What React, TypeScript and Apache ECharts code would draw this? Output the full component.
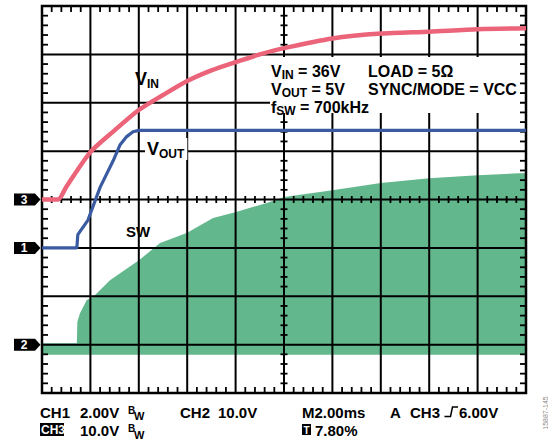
import React, { useEffect, useRef } from 'react';
import * as echarts from 'echarts';

// ---- Time base (ms) and screen divisions ----
const TIME_MAX_MS = 20;
const TIME_PER_DIV_MS = 2;
const V_DIVS = 8;
const MINOR_PER_DIV = 5;

// ---- Channel settings: ground level in divisions, volts per division ----
const CH1_GROUND_DIV = 3; // VOUT
const CH1_VOLTS_PER_DIV = 2;
const CH2_GROUND_DIV = 1; // SW
const CH2_VOLTS_PER_DIV = 10;
const CH3_GROUND_DIV = 4; // VIN
const CH3_VOLTS_PER_DIV = 10;

// ---- CH3: VIN ----
const vinTimeMs = [0, 0.66, 1.0, 2.0, 3.0, 4.0, 5.0, 6.0, 7.0, 8.0, 9.0, 10.0, 12.0, 14.0, 16.0, 18.0, 20.0];
const vinVolts = [0, 0, 2.6, 9.8, 14.3, 18.5, 21.6, 24.5, 26.7, 28.4, 30.0, 31.3, 33.3, 34.3, 34.7, 35.2, 35.4];

// ---- CH1: VOUT ----
const voutTimeMs = [0, 1.44, 1.48, 1.9, 2.4, 2.94, 3.22, 3.5, 3.76, 4.0, 8.0, 12.0, 16.0, 20.0];
const voutVolts = [0, 0, 0.55, 1.15, 2.5, 3.6, 4.25, 4.6, 4.8, 4.86, 4.86, 4.86, 4.86, 4.86];

// ---- CH2: SW (switching node envelope) ----
const swTimeMs = [0, 1.44, 1.46, 1.57, 1.85, 2.12, 2.81, 4.02, 4.88, 5.98, 7.07, 8.02, 9.29, 10.0, 12.0, 14.0, 16.0, 18.0, 20.0];
const swPeakVolts = [0.3, 0.3, 4.7, 6.5, 9.2, 9.9, 13.3, 17.5, 21.0, 23.1, 26.2, 27.4, 29.3, 30.5, 31.9, 33.4, 34.4, 35.0, 35.5];
const swFloorVolts = -2.1;

// ---- Channel ground markers ----
const channelMarkers = ['3', '1', '2'];
const markerGrounds = [CH3_GROUND_DIV, CH1_GROUND_DIV, CH2_GROUND_DIV];

const PINK = '#eb6479';
const BLUE = '#3a5ba2';
const GREEN = '#63b78d';
const FONT = '"Liberation Sans", Arial, Helvetica, sans-serif';

const toDiv = (t: number[], v: number[], ground: number, vpd: number) =>
  t.map((ti, i) => [ti, ground + v[i] / vpd]);

const rich = (main: number, sub: number, lh: number) => ({
  m: { fontSize: main, fontWeight: 'bold', fontFamily: FONT, fill: '#000', lineHeight: lh },
  s: { fontSize: sub, fontWeight: 'bold', fontFamily: FONT, fill: '#000', verticalAlign: 'bottom', lineHeight: sub },
});

function txt(x: number, y: number, text: string, size = 15, extra: any = {}) {
  return {
    type: 'text', x, y, z: 10,
    style: { text, fontSize: size, fontWeight: 'bold', fontFamily: FONT, fill: '#000', align: 'left', verticalAlign: 'middle', ...extra },
  };
}

// SW envelope fill first, then the graticule over it (children order = paint order)
function renderScreen(_params: any, api: any) {
  const children: any[] = [];
  const X = (t: number) => api.coord([t, 0])[0];
  const Y = (d: number) => api.coord([0, d])[1];
  const left = X(0), right = X(TIME_MAX_MS), bottom = Y(0), top = Y(V_DIVS);
  const cx = X(TIME_MAX_MS / 2), cy = Y(V_DIVS / 2);

  const swDiv = toDiv(swTimeMs, swPeakVolts, CH2_GROUND_DIV, CH2_VOLTS_PER_DIV);
  const floorDiv = CH2_GROUND_DIV + swFloorVolts / CH2_VOLTS_PER_DIV;
  const pts = swDiv.map((p) => api.coord(p));
  pts.push(api.coord([swTimeMs[swTimeMs.length - 1], floorDiv]));
  pts.push(api.coord([swTimeMs[0], floorDiv]));
  children.push({ type: 'polygon', shape: { points: pts }, style: { fill: GREEN, stroke: null } });

  const line = (x1: number, y1: number, x2: number, y2: number, w: number) =>
    children.push({ type: 'line', shape: { x1, y1, x2, y2 }, style: { stroke: '#000', lineWidth: w } });
  const nxDiv = TIME_MAX_MS / TIME_PER_DIV_MS;
  for (let i = 1; i < nxDiv; i++) { const x = X(i * TIME_PER_DIV_MS); line(x, top, x, bottom, 2); }
  for (let j = 1; j < V_DIVS; j++) { const y = Y(j); line(left, y, right, y, 2); }
  for (let k = 1; k < nxDiv * MINOR_PER_DIV; k++) {
    if (k % MINOR_PER_DIV === 0) continue;
    const x = X((k * TIME_PER_DIV_MS) / MINOR_PER_DIV);
    line(x, bottom, x, bottom - 6, 1.8);
    line(x, top, x, top + 6, 1.8);
    line(x, cy - 3.5, x, cy + 3.5, 1.8);
  }
  for (let k = 1; k < V_DIVS * MINOR_PER_DIV; k++) {
    if (k % MINOR_PER_DIV === 0) continue;
    const y = Y(k / MINOR_PER_DIV);
    line(left, y, left + 6, y, 1.8);
    line(right, y, right - 6, y, 1.8);
    line(cx - 3.5, y, cx + 3.5, y, 1.8);
  }
  children.push({ type: 'rect', shape: { x: left, y: top, width: right - left, height: bottom - top }, style: { fill: null, stroke: '#000', lineWidth: 2.5 } });
  return { type: 'group', children };
}

export default function App() {
  const ref = useRef<HTMLDivElement>(null);
  useEffect(() => {
    if (!ref.current) return;
    const chart = echarts.init(ref.current, null, { renderer: 'svg' });
    chart.setOption({
      animation: false,
      backgroundColor: '#fff',
      grid: { left: 42, top: 6, width: 484, height: 387, show: false, containLabel: false, outerBoundsMode: 'none' },
      xAxis: { type: 'value', min: 0, max: TIME_MAX_MS, interval: TIME_PER_DIV_MS, show: false },
      yAxis: { type: 'value', min: 0, max: V_DIVS, interval: 1, show: false },
      series: [
        {
          type: 'custom', name: 'SW', coordinateSystem: 'cartesian2d', data: [[0, 0]],
          renderItem: renderScreen, z: 1, silent: true, clip: false,
        },
        {
          type: 'line', name: 'VIN', data: toDiv(vinTimeMs, vinVolts, CH3_GROUND_DIV, CH3_VOLTS_PER_DIV),
          symbol: 'none', smooth: 0.25, lineStyle: { width: 4.5, color: PINK }, itemStyle: { color: PINK }, z: 5, silent: true,
        },
        {
          type: 'line', name: 'VOUT', data: toDiv(voutTimeMs, voutVolts, CH1_GROUND_DIV, CH1_VOLTS_PER_DIV),
          symbol: 'none', lineStyle: { width: 3.2, color: BLUE }, itemStyle: { color: BLUE }, z: 5, silent: true,
        },
      ],
    });

    const markers = channelMarkers.map((label, i) => {
      const py = chart.convertToPixel({ yAxisIndex: 0 }, markerGrounds[i]) as number;
      return {
        type: 'group', z: 10,
        children: [
          { type: 'polygon', z: 10, shape: { points: [[14, py - 6], [35, py - 6], [40.5, py], [35, py + 6], [14, py + 6]] }, style: { fill: '#000' } },
          { type: 'text', z: 11, x: 24, y: py, style: { text: label, fill: '#fff', fontSize: 12, fontWeight: 'bold', fontFamily: FONT, align: 'center', verticalAlign: 'middle' } },
        ],
      };
    });

    const graphic: any[] = [
      // annotation box
      { type: 'rect', z: 8, shape: { x: 270, y: 57, width: 250, height: 56 }, style: { fill: '#fff' } },
      { type: 'text', z: 10, x: 271, y: 71, style: { text: '{m|V}{s|IN}{m| = 36V}', rich: rich(16, 12, 20), verticalAlign: 'middle', align: 'left' } },
      { type: 'text', z: 10, x: 271, y: 89, style: { text: '{m|V}{s|OUT}{m| = 5V}', rich: rich(16, 12, 20), verticalAlign: 'middle', align: 'left' } },
      { type: 'text', z: 10, x: 271, y: 107, style: { text: '{m|f}{s|SW}{m| = 700kHz}', rich: rich(16, 12, 20), verticalAlign: 'middle', align: 'left' } },
      txt(368, 71, 'LOAD = 5Ω', 16),
      txt(368, 89, 'SYNC/MODE = VCC', 16),
      // trace labels
      { type: 'text', z: 10, x: 135, y: 79, style: { text: '{m|V}{s|IN}', rich: rich(18, 12, 22), verticalAlign: 'middle', align: 'left' } },
      { type: 'text', z: 10, x: 145, y: 149, style: { text: '{m|V}{s|OUT}', rich: rich(18, 12, 22), verticalAlign: 'middle', align: 'left', backgroundColor: '#fff', padding: [0, 3, 0, 2] } },
      txt(126, 231, 'SW', 15),
      // bottom readout, row 1
      txt(40, 412.5, 'CH1'),
      txt(80, 412.5, '2.00V'),
      txt(128, 410, 'B', 10),
      txt(134, 415.5, 'W', 11),
      txt(180, 412.5, 'CH2'),
      txt(218, 412.5, '10.0V'),
      txt(302, 412.5, 'M2.00ms'),
      txt(390, 412.5, 'A'),
      txt(410, 412.5, 'CH3'),
      { type: 'polyline', z: 10, shape: { points: [[444.5, 416.5], [450.5, 416.5], [452.5, 407], [458, 407]] }, style: { stroke: '#000', lineWidth: 1.5, fill: null } },
      txt(459, 412.5, '6.00V'),
      // bottom readout, row 2
      { type: 'rect', z: 9, shape: { x: 40, y: 423, width: 24, height: 13 }, style: { fill: '#000' } },
      txt(41, 430, 'CH3', 12, { fill: '#fff' }),
      txt(80, 430.5, '10.0V'),
      txt(128, 428.5, 'B', 10),
      txt(134, 434.5, 'W', 11),
      { type: 'rect', z: 9, shape: { x: 302, y: 424, width: 9, height: 11 }, style: { fill: '#000' } },
      { type: 'text', z: 10, x: 306.5, y: 430, style: { text: 'T', fill: '#fff', fontSize: 10, fontWeight: 'bold', fontFamily: FONT, align: 'center', verticalAlign: 'middle' } },
      txt(315, 430.5, '7.80%'),
      // figure code
      { type: 'text', z: 10, x: 545, y: 413, rotation: Math.PI / 2, style: { text: '15887-145', fill: '#888', fontSize: 7, fontFamily: FONT, align: 'center', verticalAlign: 'middle' } },
      ...markers,
    ];
    chart.setOption({ graphic });

    return () => chart.dispose();
  }, []);
  return <div ref={ref} style={{ position: 'fixed', left: 0, top: 0, width: 548, height: 440 }} />;
}
